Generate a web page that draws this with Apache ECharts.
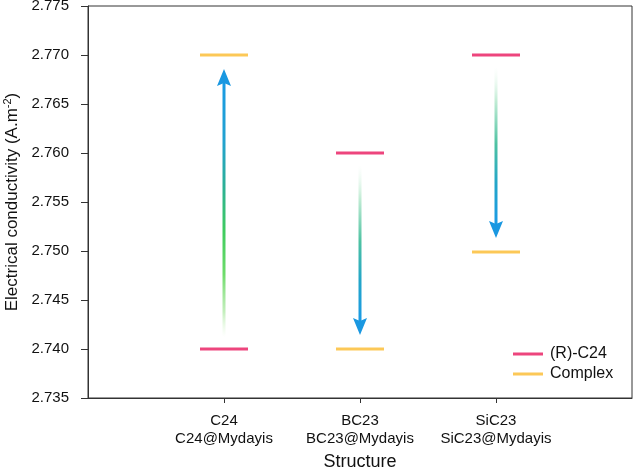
<!DOCTYPE html>
<html>
<head>
<meta charset="utf-8">
<script src="https://cdn.jsdelivr.net/npm/echarts@6/dist/echarts.min.js"></script>
<style>
  html, body { margin: 0; padding: 0; background: #fff; }
  #main { width: 635px; height: 472px; }
</style>
</head>
<body>
<div id="main"></div>
<script>
// categories sit at x = 1, 2, 3 on a 0..4 value axis
const categories = ['C24\nC24@Mydayis', 'BC23\nBC23@Mydayis', 'SiC23\nSiC23@Mydayis'];
const catPos = [1, 2, 3];
const rc24 = [2.740, 2.760, 2.770];
const complex = [2.770, 2.740, 2.7499];
const yTicks = { min: 2.735, max: 2.775, step: 0.005 };

const FONT = '"Liberation Sans", Arial, sans-serif';
const RED = '#E8175D';
const ORANGE = '#FBBA2D';

// arrow gradients (up arrow is greener)
const upStops = [
  { offset: 0, color: 'rgba(210,245,200,0)' },
  { offset: 0.1, color: 'rgba(170,232,160,0.7)' },
  { offset: 0.25, color: '#6edc6a' },
  { offset: 0.42, color: '#3fcc5e' },
  { offset: 0.6, color: '#2cb096' },
  { offset: 0.78, color: '#22a2d0' },
  { offset: 1, color: '#1a9be2' }
];
const downStops = [
  { offset: 0, color: 'rgba(230,248,235,0)' },
  { offset: 0.22, color: 'rgba(190,235,210,0.95)' },
  { offset: 0.5, color: '#4ec2a2' },
  { offset: 0.75, color: '#24a6c8' },
  { offset: 1, color: '#1b9be3' }
];

const arrowData = catPos.map((x, i) => [x, rc24[i], complex[i]]);

function renderArrow(params, api) {
  const x = api.value(0);
  const a = api.coord([x, api.value(1)]);
  const b = api.coord([x, api.value(2)]);
  const dir = b[1] < a[1] ? -1 : 1;
  const startGap = 12, tipGap = 14, headLen = 17, headW = 7, notch = 3;
  const y0 = a[1] + dir * startGap;
  const tip = b[1] - dir * tipGap;
  const base = tip - dir * headLen;
  const stops = dir < 0 ? upStops : downStops;
  return {
    type: 'group',
    children: [
      {
        type: 'line',
        shape: { x1: a[0], y1: y0, x2: a[0], y2: base + dir * notch },
        style: {
          lineWidth: 3,
          stroke: new echarts.graphic.LinearGradient(a[0], y0, a[0], base, stops, true)
        }
      },
      {
        type: 'polygon',
        shape: {
          points: [
            [a[0], tip],
            [a[0] - headW, base],
            [a[0], base + dir * notch],
            [a[0] + headW, base]
          ]
        },
        style: { fill: '#1a98e1' }
      }
    ]
  };
}

const chart = echarts.init(document.getElementById('main'));
chart.setOption({
  animation: false,
  backgroundColor: '#fff',
  textStyle: { fontFamily: FONT },
  grid: {
    left: 88, right: 3, top: 6, bottom: 74,
    outerBoundsMode: 'none',
    containLabel: false,
    show: true, borderColor: '#333', borderWidth: 1
  },
  legend: {
    orient: 'vertical',
    left: 508,
    top: 341,
    icon: 'rect',
    itemWidth: 30,
    itemHeight: 3,
    itemGap: 4,
    textStyle: { fontFamily: FONT, fontSize: 16, color: '#111', padding: [0, 0, 0, 2] },
    data: ['(R)-C24', 'Complex']
  },
  xAxis: {
    type: 'value',
    min: 0,
    max: 4,
    interval: 1,
    name: 'Structure',
    nameLocation: 'middle',
    nameGap: 49,
    nameTextStyle: { fontFamily: FONT, fontSize: 18, color: '#111' },
    splitLine: { show: false },
    axisLine: { lineStyle: { color: '#333' } },
    axisTick: { customValues: catPos, length: 5, lineStyle: { color: '#333' } },
    axisLabel: {
      customValues: catPos,
      margin: 14,
      fontFamily: FONT,
      fontSize: 15,
      lineHeight: 18,
      color: '#111',
      formatter: v => categories[catPos.indexOf(v)] || ''
    }
  },
  yAxis: {
    type: 'value',
    min: yTicks.min,
    max: yTicks.max,
    interval: yTicks.step,
    name: '{t|Electrical conductivity (A.m}{s|-2}{t|)}',
    nameLocation: 'middle',
    nameGap: 66,
    nameTextStyle: {
      rich: {
        t: { fontFamily: FONT, fontSize: 17, color: '#111' },
        s: { fontFamily: FONT, fontSize: 11, color: '#111', verticalAlign: 'top', padding: [0, 0, 9, 0] }
      }
    },
    splitLine: { show: false },
    axisLine: { show: true, lineStyle: { color: '#333' } },
    axisTick: { show: true, length: 7, lineStyle: { color: '#333' } },
    axisLabel: {
      margin: 19,
      fontFamily: FONT,
      fontSize: 15,
      color: '#111',
      formatter: v => v.toFixed(3)
    }
  },
  series: [
    {
      name: 'arrows',
      type: 'custom',
      renderItem: renderArrow,
      data: arrowData,
      z: 1
    },
    {
      name: '(R)-C24',
      type: 'scatter',
      symbol: 'rect',
      symbolSize: [48, 3],
      itemStyle: { color: RED },
      data: catPos.map((x, i) => [x, rc24[i]]),
      z: 3
    },
    {
      name: 'Complex',
      type: 'scatter',
      symbol: 'rect',
      symbolSize: [48, 3],
      itemStyle: { color: ORANGE },
      data: catPos.map((x, i) => [x, complex[i]]),
      z: 3
    }
  ]
});
</script>
</body>
</html>
